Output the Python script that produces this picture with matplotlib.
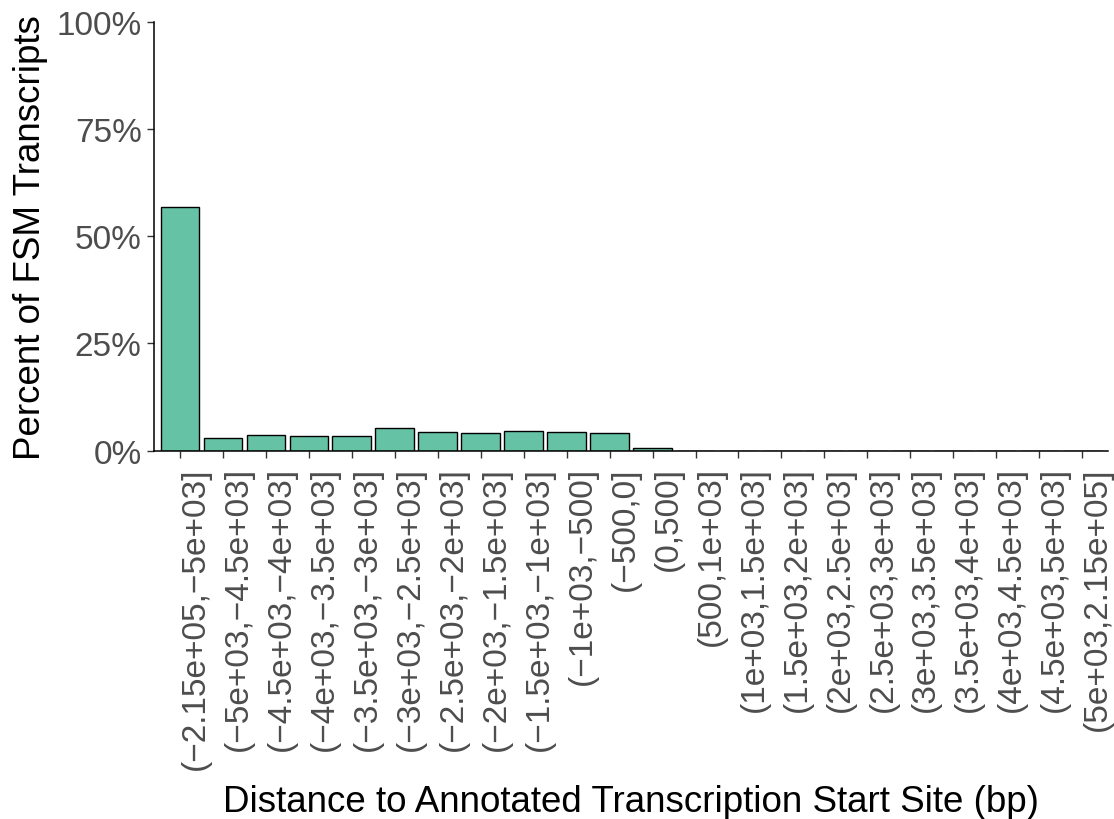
import numpy as np
import matplotlib
matplotlib.use("Agg")
import matplotlib.pyplot as plt
from matplotlib.ticker import FuncFormatter

plt.rcParams['font.family'] = ['Liberation Sans', 'DejaVu Sans']

# distance bins (bp) and percent of FSM transcripts in each
bins = ["(\u22122.15e+05,\u22125e+03]", "(\u22125e+03,\u22124.5e+03]",
        "(\u22124.5e+03,\u22124e+03]", "(\u22124e+03,\u22123.5e+03]",
        "(\u22123.5e+03,\u22123e+03]", "(\u22123e+03,\u22122.5e+03]",
        "(\u22122.5e+03,\u22122e+03]", "(\u22122e+03,\u22121.5e+03]",
        "(\u22121.5e+03,\u22121e+03]", "(\u22121e+03,\u2212500]",
        "(\u2212500,0]", "(0,500]", "(500,1e+03]", "(1e+03,1.5e+03]",
        "(1.5e+03,2e+03]", "(2e+03,2.5e+03]", "(2.5e+03,3e+03]",
        "(3e+03,3.5e+03]", "(3.5e+03,4e+03]", "(4e+03,4.5e+03]",
        "(4.5e+03,5e+03]", "(5e+03,2.15e+05]"]
percent = [56.9, 2.9, 3.6, 3.5, 3.5, 5.2, 4.4, 4.2, 4.5, 4.4, 4.2, 0.7,
           0, 0, 0, 0, 0, 0, 0, 0, 0, 0]

fig = plt.figure(figsize=(11.14, 8.2), dpi=100)
ax = fig.add_axes([0.1384, 0.4491, 0.8562, 0.5232])

x = np.arange(len(bins))
ax.bar(x, percent, width=0.9, color="#66C2A5", edgecolor="black", linewidth=1.0, zorder=2)

ax.set_xlim(-0.6, len(bins) - 0.4)
ax.set_ylim(0, 100)
ax.set_yticks([0, 25, 50, 75, 100])
ax.yaxis.set_major_formatter(FuncFormatter(lambda v, p: "%d%%" % v))

ax.set_xticks(x)
ax.set_xticklabels(bins, rotation=90, ha="left", va="top")

for s in ["top", "right"]:
    ax.spines[s].set_visible(False)
for s in ["left", "bottom"]:
    ax.spines[s].set_linewidth(1.1)
    ax.spines[s].set_color("black")

ax.tick_params(axis="both", length=5, width=1.0, color="#333333",
               labelcolor="#4D4D4D", labelsize=24)
ax.tick_params(axis="x", pad=6)
ax.tick_params(axis="y", pad=4)

ax.set_xlabel("Distance to Annotated Transcription Start Site (bp)", fontsize=26.5, labelpad=11)
ax.set_ylabel("Percent of FSM Transcripts", fontsize=26.5, labelpad=6)

fig.savefig("out.png", dpi=100)
